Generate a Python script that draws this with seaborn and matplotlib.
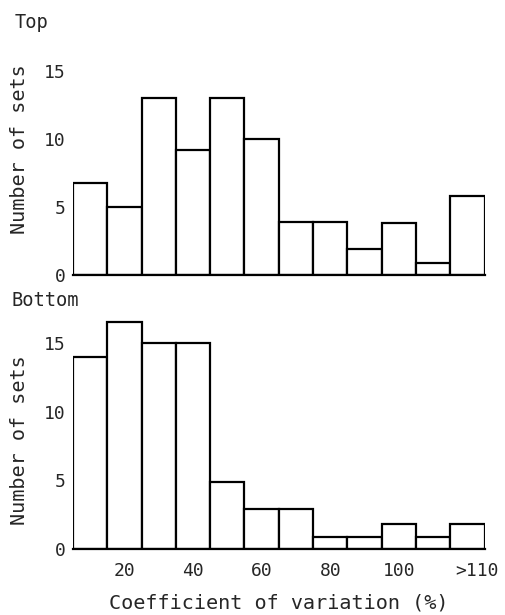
import numpy as np
import pandas as pd
import matplotlib
matplotlib.use("Agg")
import matplotlib.pyplot as plt
import matplotlib.transforms as mtransforms
import seaborn as sns

# Bin centres (coefficient of variation, %), last bin is ">110"
centres = [10, 20, 30, 40, 50, 60, 70, 80, 90, 100, 110, 120]
top_counts = [6.8, 5, 13, 9.2, 13, 10, 3.9, 3.9, 1.9, 3.8, 0.9, 5.8]
bottom_counts = [14, 16.5, 15, 15, 4.9, 2.9, 2.9, 0.9, 0.9, 1.8, 0.9, 1.8]
xtick_pos = [20, 40, 60, 80, 100, 120]
xtick_labels = ["20", "40", "60", "80", "100", ">110"]
ytick_pos = [0, 5, 10, 15]
panel_names = ["Top", "Bottom"]

sns.set_style("white")
plt.rcParams['font.family'] = ['DejaVu Sans Mono', 'DejaVu Sans']

fig = plt.figure(figsize=(5.06, 6.15), dpi=100)
ax_top = fig.add_axes([0.144, 0.553, 0.814, 0.3756])
ax_bot = fig.add_axes([0.144, 0.1073, 0.814, 0.3795])

fs = 13
lfs = 14.5

for ax, counts, ly in [(ax_top, top_counts, 0.545), (ax_bot, bottom_counts, 0.468)]:
    df = pd.DataFrame({"cv": centres, "n": counts})
    sns.barplot(data=df, x="cv", y="n", native_scale=True, width=1, ax=ax,
                color="white", edgecolor="black", linewidth=1.6,
                errorbar=None, saturation=1)
    ax.set_xlim(5, 125)
    ax.set_ylim(0, 17)
    ax.set_yticks(ytick_pos)
    ax.set_yticklabels([str(v) for v in ytick_pos], fontsize=fs)
    ax.tick_params(axis="both", length=0)
    ax.tick_params(axis="y", pad=5)
    ax.tick_params(axis="x", pad=9)
    for s in ["left", "top", "right"]:
        ax.spines[s].set_visible(False)
    ax.spines["bottom"].set_linewidth(1.6)
    ax.spines["bottom"].set_color("black")
    ax.set_ylabel("Number of sets", fontsize=lfs)
    ax.yaxis.set_label_coords(-0.107, ly)

ax_top.set_xticks([])
ax_top.set_xlabel("")
ax_bot.set_xticks(xtick_pos)
ax_bot.set_xticklabels(xtick_labels, fontsize=fs)
ax_bot.set_xlabel("Coefficient of variation (%)", fontsize=lfs, labelpad=10)

# the ">110" label sits a little right of its bar centre in the original
last = ax_bot.get_xticklabels()[-1]
last.set_transform(last.get_transform() +
                   mtransforms.ScaledTranslation(9 / 100, 0, fig.dpi_scale_trans))

fig.text(15 / 506, 1 - 23 / 615, panel_names[0], fontsize=13.5, va="center", ha="left")
fig.text(12 / 506, 1 - 300 / 615, panel_names[1], fontsize=13.5, va="center", ha="left")

fig.savefig("out.png", dpi=100)
